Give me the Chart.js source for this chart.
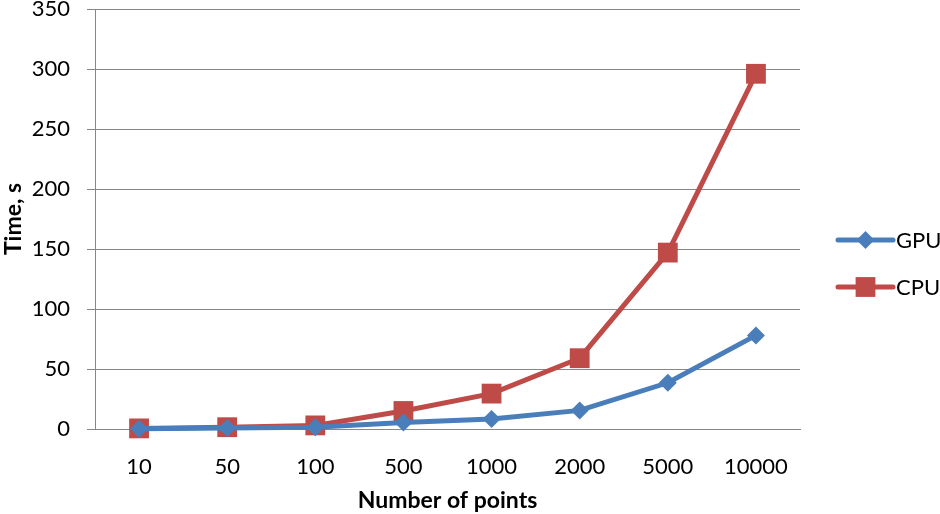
<!DOCTYPE html>
<html>
<head>
<meta charset="utf-8">
<script src="https://cdn.jsdelivr.net/npm/chart.js@4/dist/chart.umd.min.js"></script>
<style>
html,body{margin:0;padding:0;background:#fff;}
#wrap{width:940px;height:514px;position:relative;}
</style>
</head>
<body>
<div id="wrap"><canvas id="c" width="940" height="514"></canvas></div>
<script>
const categories = ['10','50','100','500','1000','2000','5000','10000'];
const gpuTimes = [0.3, 0.8, 1.5, 5.5, 8.4, 15.5, 38.5, 78];
const cpuTimes = [0.5, 1.5, 3, 15, 29.5, 59, 147, 296];
const seriesNames = ['GPU', 'CPU'];
const yTickValues = [0, 50, 100, 150, 200, 250, 300, 350];

const FONT = 'Lato, "Open Sans", sans-serif';
const BLUE = '#4A7EBB';
const RED = '#BE4B48';
const GRID = '#878787';

// Do not let marker size push the plot area inward (markers are drawn unclipped).
Chart.LineController.prototype.getMaxOverflow = function () { return 0; };

const legendPlugin = {
  id: 'sideLegend',
  afterDraw(chart) {
    const ctx = chart.ctx;
    const area = chart.chartArea;
    const x0 = area.right + 38, x1 = area.right + 93, xm = (x0 + x1) / 2;
    const ys = [240, 287];
    chart.data.datasets.forEach((ds, i) => {
      const y = ys[i];
      ctx.save();
      ctx.strokeStyle = ds.borderColor;
      ctx.lineWidth = ds.borderWidth;
      ctx.lineCap = 'round';
      ctx.beginPath();
      ctx.moveTo(x0, y); ctx.lineTo(x1, y); ctx.stroke();
      ctx.fillStyle = ds.borderColor;
      ctx.beginPath();
      if (ds.pointStyle === 'rectRot') {
        const r = ds.pointRadius;
        ctx.moveTo(xm - r, y); ctx.lineTo(xm, y - r); ctx.lineTo(xm + r, y); ctx.lineTo(xm, y + r); ctx.closePath();
      } else {
        const s = ds.pointRadius * Math.SQRT1_2;
        ctx.rect(xm - s, y - s, 2 * s, 2 * s);
      }
      ctx.fill();
      ctx.fillStyle = '#000';
      ctx.font = '22px ' + FONT;
      ctx.textBaseline = 'middle';
      ctx.textAlign = 'left';
      ctx.fillText(ds.label, x1 + 3, y + 1);
      ctx.restore();
    });
  }
};

new Chart(document.getElementById('c'), {
  type: 'line',
  data: {
    labels: categories,
    datasets: [
      {
        label: seriesNames[0], data: gpuTimes,
        borderColor: BLUE, backgroundColor: BLUE, borderWidth: 5,
        pointStyle: 'rectRot', pointRadius: 9, pointBorderWidth: 0,
        pointBackgroundColor: BLUE, tension: 0, clip: false
      },
      {
        label: seriesNames[1], data: cpuTimes,
        borderColor: RED, backgroundColor: RED, borderWidth: 5,
        pointStyle: 'rect', pointRadius: 14, pointBorderWidth: 0,
        pointBackgroundColor: RED, tension: 0, clip: false
      }
    ]
  },
  options: {
    responsive: false,
    animation: false,
    layout: { padding: { top: 0, right: 140, left: 0, bottom: 0 } },
    plugins: { legend: { display: false }, tooltip: { enabled: false } },
    scales: {
      x: {
        type: 'category',
        offset: true,
        grid: { display: false },
        border: { display: true, color: GRID, width: 1 },
        ticks: { color: '#000', font: { family: FONT, size: 22 }, padding: 17, maxRotation: 0 },
        title: { display: true, text: 'Number of points', color: '#000', font: { family: FONT, size: 23, weight: 'bold' }, padding: { top: 0, bottom: 0 } },
        afterFit(scale) { scale.height = 85; }
      },
      y: {
        min: 0, max: 350,
        afterBuildTicks(scale) { scale.ticks = yTickValues.map(v => ({ value: v })); },
        grid: { color: GRID, lineWidth: 1, tickLength: 8, drawTicks: true },
        border: { display: true, color: GRID, width: 1 },
        ticks: { color: '#000', font: { family: FONT, size: 22 }, padding: 17 },
        title: { display: true, text: 'Time, s', color: '#000', font: { family: FONT, size: 23, weight: 'bold' }, padding: 0 },
        afterFit(scale) { scale.width = 95; scale.paddingTop = 9; scale.paddingBottom = 0; }
      }
    }
  },
  plugins: [legendPlugin]
});
</script>
</body>
</html>
